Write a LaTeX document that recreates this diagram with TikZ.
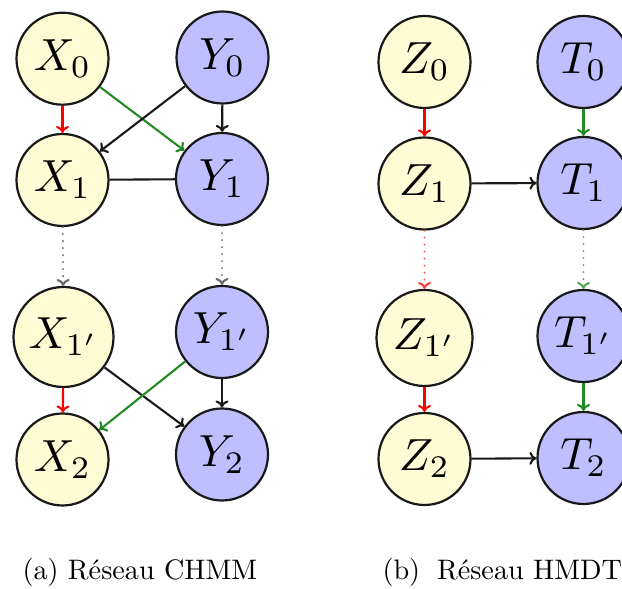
\documentclass[tikz,border=0pt]{standalone}
\usetikzlibrary{arrows.meta}
\definecolor{nodeyellow}{RGB}{255,251,212}
\definecolor{nodeblue}{RGB}{191,191,255}
\definecolor{fgreen}{RGB}{34,139,34}
\definecolor{dotgray}{RGB}{105,105,105}
\newcommand{\lbl}[1]{\scalebox{4.5}{$#1$}}
\begin{document}
\begin{tikzpicture}[x=1pt,y=1pt,
  var/.style={circle,draw=black!90,line width=2.2pt,inner sep=1pt,minimum size=92pt},
  yel/.style={var,fill=nodeyellow},
  blu/.style={var,fill=nodeblue},
  arr/.style={line width=2.1pt,-{To[length=7pt,width=13pt]}},
  dotarr/.style={arr,line cap=round,dash pattern=on 0pt off 7pt},
  captext/.style={font=\fontsize{10}{12}\selectfont,scale=2.82,transform shape,anchor=base west,inner sep=0pt}]
\useasboundingbox (0,0) rectangle (622,589);
% left panel
\node[yel] (X0) at (62.5,530.3) {\lbl{X_0}};
\node[blu] (Y0) at (222.5,531.5) {\lbl{Y_0}};
\node[yel] (X1) at (62.5,409) {\lbl{X_1}};
\node[blu] (Y1) at (222,410) {\lbl{Y_1}};
\node[yel,minimum size=100pt] (X1p) at (63.5,252) {\lbl{X_{1'}}};
\node[blu] (Y1p) at (222,257) {\lbl{Y_{1'}}};
\node[yel] (X2) at (62.5,129.5) {\lbl{X_2}};
\node[blu] (Y2) at (222,134.5) {\lbl{Y_2}};
\draw[arr,red] (X0) -- (X1);
\draw[arr,fgreen] (X0) -- (Y1);
\draw[arr,black!90] (Y0) -- (X1);
\draw[arr,black!90] (Y0) -- (Y1);
\draw[line width=2.1pt,black!90] (X1) -- (Y1);
\draw[dotarr,dotgray] (X1) -- (X1p);
\draw[dotarr,dotgray] (Y1) -- (Y1p);
\draw[arr,red] (X1p) -- (X2);
\draw[arr,black!90] (Y1p) -- (Y2);
\draw[arr,black!90] (X1p) -- (Y2);
\draw[arr,fgreen] (Y1p) -- (X2);
% right panel
\node[yel] (Z0) at (424.5,527) {\lbl{Z_0}};
\node[blu] (T0) at (583.5,527) {\lbl{T_0}};
\node[yel] (Z1) at (424.5,405.5) {\lbl{Z_1}};
\node[blu] (T1) at (583.5,406) {\lbl{T_1}};
\node[yel,minimum size=96pt] (Z1p) at (424.5,251) {\lbl{Z_{1'}}};
\node[blu] (T1p) at (583.5,253) {\lbl{T_{1'}}};
\node[yel] (Z2) at (424.5,130) {\lbl{Z_2}};
\node[blu] (T2) at (583.5,131) {\lbl{T_2}};
\draw[arr,red] (Z0) -- (Z1);
\draw[arr,fgreen] (T0) -- (T1);
\draw[arr,black!90] (Z1) -- (T1);
\draw[dotarr,red!75] (Z1) -- (Z1p);
\draw[dotarr,fgreen!75] (T1) -- (T1p);
\draw[arr,red] (Z1p) -- (Z2);
\draw[arr,fgreen] (T1p) -- (T2);
\draw[arr,black!90] (Z2) -- (T2);
% captions
\node[captext] (capa) at (22,9) {(a) Réseau CHMM};
\node[captext] (capb) at (382,9) {(b)\hspace{0.6em}Réseau HMDT};
\end{tikzpicture}
\end{document}
